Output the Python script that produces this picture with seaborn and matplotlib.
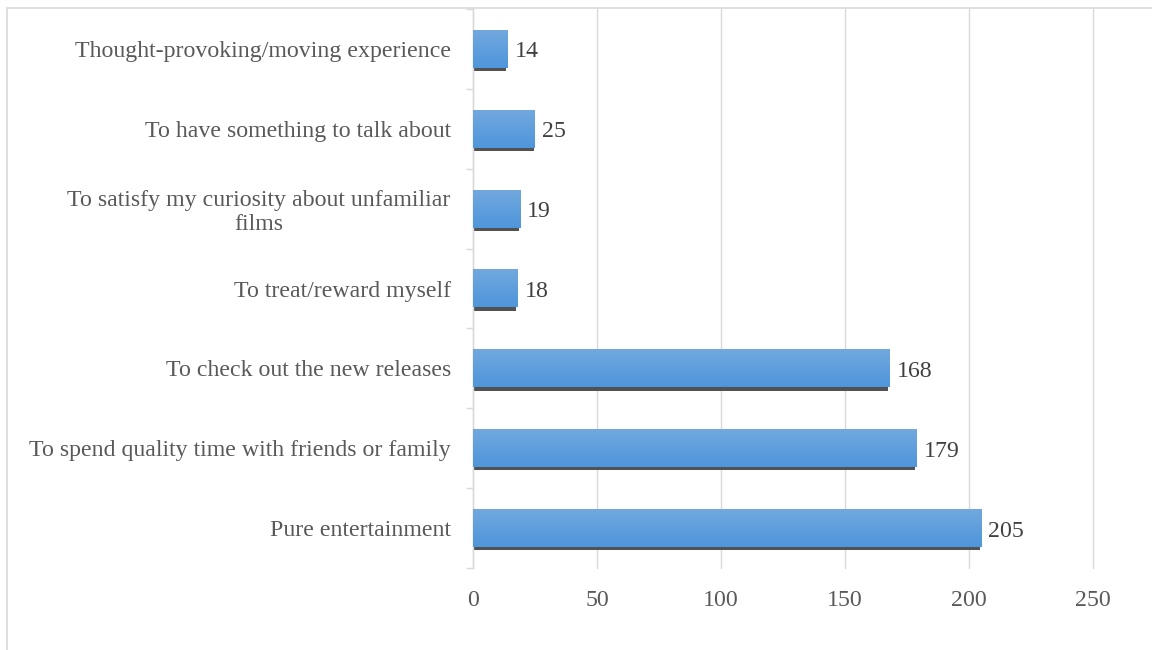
import numpy as np
import matplotlib
matplotlib.use("Agg")
import matplotlib.pyplot as plt
from matplotlib.patches import Rectangle
from matplotlib.lines import Line2D
from matplotlib.ticker import FixedLocator
import seaborn as sns

categories = [
    "Thought-provoking/moving experience",
    "To have something to talk about",
    "To satisfy my curiosity about unfamiliar\nfilms",
    "To treat/reward myself",
    "To check out the new releases",
    "To spend quality time with friends or family",
    "Pure entertainment",
]
values = [14, 25, 19, 18, 168, 179, 205]
x_ticks = [0, 50, 100, 150, 200, 250]

sns.set_theme(style="white")
plt.rcParams["font.family"] = ["Liberation Serif", "DejaVu Serif"]

FS = 17.2
fig = plt.figure(figsize=(11.52, 6.5), dpi=100)
ax = fig.add_axes([473 / 1152, 1 - 568 / 650, 620 / 1152, 559 / 650])

sns.barplot(x=values, y=categories, orient="h", color="#5b9bd5",
            saturation=1, width=0.475, linewidth=0, ax=ax, zorder=3)

ax.set_xlim(0, 250)
ax.set_ylim(len(categories) - 0.5, -0.5)

top_c = np.array([0x72, 0xa8, 0xde]) / 255
bot_c = np.array([0x4e, 0x96, 0xdb]) / 255
t = np.linspace(0, 1, 64)[:, None, None]
grad = top_c * (1 - t) + bot_c * t

for p in ax.patches:
    x0, y0 = p.get_x(), p.get_y()
    w, h = p.get_width(), p.get_height()
    ax.add_patch(Rectangle((x0, y0 + h - 0.02), w - 0.6, 0.06,
                           facecolor="#525252", edgecolor="none", zorder=2))
    ax.imshow(grad, extent=(x0, x0 + w, y0 + h, y0), origin="upper",
              aspect="auto", zorder=3.5, interpolation="bilinear")

ax.set_xlim(0, 250)
ax.set_ylim(len(categories) - 0.5, -0.5)

labels = ax.bar_label(ax.containers[0], padding=5, fontsize=FS, color="#404040")
for lb in labels:
    lb.xyann = (5, -2.2)

ax.set_xticks(x_ticks)
ax.set_xticklabels([str(v) for v in x_ticks])
ax.xaxis.grid(True, color="#d9d9d9", linewidth=1.0)
ax.yaxis.grid(False)
ax.set_axisbelow(True)
for gl in ax.get_xgridlines():
    gl.set_clip_on(False)
ax.set_xlabel("")
ax.set_ylabel("")

for s in ["top", "right", "bottom"]:
    ax.spines[s].set_visible(False)
ax.spines["left"].set_color("#d9d9d9")
ax.spines["left"].set_linewidth(1.0)

ax.tick_params(axis="x", length=0, pad=15.5, labelsize=FS, labelcolor="#595959")
ax.tick_params(axis="y", which="major", length=0, pad=16, labelsize=FS,
               labelcolor="#595959")
ax.yaxis.set_minor_locator(FixedLocator(np.arange(-0.5, len(categories), 1.0)))
ax.tick_params(axis="y", which="minor", length=5, width=1.0, color="#d9d9d9",
               left=True)
for lab in ax.get_yticklabels():
    lab.set_multialignment("center")
    lab.set_linespacing(1.15)

fig.add_artist(Line2D([7 / 1152, 7 / 1152], [0, 1 - 8 / 650],
                      transform=fig.transFigure, color="#d9d9d9", lw=1.2))
fig.add_artist(Line2D([7 / 1152, 1], [1 - 8 / 650, 1 - 8 / 650],
                      transform=fig.transFigure, color="#d9d9d9", lw=1.2))

fig.savefig("out.png", dpi=100, facecolor="white")
